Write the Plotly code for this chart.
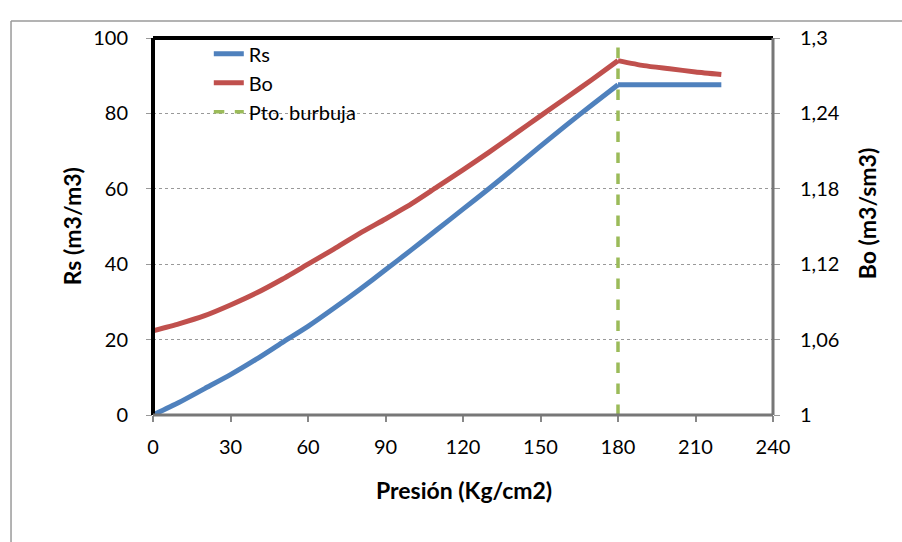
import plotly.graph_objects as go

pres = [0, 10, 20, 30, 40, 50, 60, 70, 80, 90, 100, 110, 120, 130, 140, 150, 160, 170, 180, 190, 200, 210, 220]
rs = [0, 3.3, 7.0, 10.7, 14.8, 19.2, 23.5, 28.3, 33.3, 38.5, 43.8, 49.2, 54.6, 60.0, 65.6, 71.3, 76.9, 82.3, 87.6, 87.6, 87.6, 87.6, 87.6]
bo = [1.067, 1.0725, 1.079, 1.0875, 1.097, 1.108, 1.120, 1.132, 1.1445, 1.156, 1.168, 1.1815, 1.195, 1.209, 1.2235, 1.238, 1.2525, 1.267, 1.282, 1.278, 1.2755, 1.273, 1.271]
bubble_p = [180, 180]
bubble_rs = [0, 100]

x_ticks = [0, 30, 60, 90, 120, 150, 180, 210, 240]
y1_ticks = [0, 20, 40, 60, 80, 100]
y2_ticks = [1.0, 1.06, 1.12, 1.18, 1.24, 1.30]
y2_labels = ["1", "1,06", "1,12", "1,18", "1,24", "1,3"]

FONT = "Lato"
fig = go.Figure()
fig.add_trace(go.Scatter(x=pres[:19], y=rs[:19], name="Rs", mode="lines",
                         line=dict(color="#4F81BD", width=5, shape="spline", smoothing=0.6),
                         yaxis="y", showlegend=True))
fig.add_trace(go.Scatter(x=pres[18:], y=rs[18:], name="Rs", mode="lines",
                         line=dict(color="#4F81BD", width=5), yaxis="y", showlegend=False))
fig.add_trace(go.Scatter(x=pres[:19], y=bo[:19], name="Bo", mode="lines",
                         line=dict(color="#C0504D", width=5, shape="spline", smoothing=0.6),
                         yaxis="y2"))
fig.add_trace(go.Scatter(x=pres[18:], y=bo[18:], name="Bo", mode="lines",
                         line=dict(color="#C0504D", width=5, shape="spline", smoothing=0.6),
                         yaxis="y2", showlegend=False))
fig.add_trace(go.Scatter(x=bubble_p, y=bubble_rs, name="Pto. burbuja", mode="lines",
                         line=dict(color="#9BBB59", width=3.5, dash="dash"), yaxis="y"))

PW, PH, L, B0 = 620, 376.5, 153, 414.5

fig.update_layout(
    width=902, height=542,
    margin=dict(l=153, r=129, t=38, b=127, autoexpand=False),
    paper_bgcolor="white", plot_bgcolor="white",
    font=dict(family=FONT, size=20, color="black"),
    showlegend=True,
    legend=dict(x=0.09, y=1.01, xanchor="left", yanchor="top", bgcolor="rgba(0,0,0,0)",
                font=dict(size=20), tracegroupgap=0),
    xaxis=dict(range=[0, 240], tickvals=x_ticks, showgrid=False, zeroline=False,
               ticks="outside", ticklen=6, tickcolor="#888888", tickwidth=1.5,
               showline=False, ticklabelstandoff=8),
    yaxis=dict(range=[0, 100], tickvals=y1_ticks, showgrid=True, gridcolor="#999999",
               griddash="dot", gridwidth=1, zeroline=False, ticks="outside", ticklen=6,
               tickcolor="#999999", showline=False, ticklabelstandoff=14),
    yaxis2=dict(range=[1.0, 1.3], tickvals=y2_ticks, ticktext=y2_labels, overlaying="y",
                side="right", showgrid=False, zeroline=False, ticks="outside", ticklen=6,
                tickcolor="#999999", showline=False, ticklabelstandoff=16),
    annotations=[
        dict(text="<b>Presión (Kg/cm2)</b>", xref="paper", yref="paper",
             x=(464 - L) / PW, y=(B0 - 489) / PH, showarrow=False,
             font=dict(size=23), xanchor="center", yanchor="middle"),
        dict(text="<b>Rs (m3/m3)</b>", xref="paper", yref="paper",
             x=(72 - L) / PW, y=(B0 - 226) / PH, showarrow=False, textangle=-90,
             font=dict(size=23), xanchor="center", yanchor="middle"),
        dict(text="<b>Bo (m3/sm3)</b>", xref="paper", yref="paper",
             x=(867 - L) / PW, y=(B0 - 214) / PH, showarrow=False, textangle=-90,
             font=dict(size=23), xanchor="center", yanchor="middle"),
    ],
    shapes=[
        dict(type="line", xref="paper", yref="paper", x0=0, x1=1, y0=1, y1=1,
             line=dict(color="black", width=4)),
        dict(type="line", xref="paper", yref="paper", x0=0, x1=0, y0=0, y1=1,
             line=dict(color="black", width=4)),
        dict(type="line", xref="paper", yref="paper", x0=1, x1=1, y0=0, y1=1,
             line=dict(color="#777777", width=3)),
        dict(type="line", xref="paper", yref="paper", x0=0, x1=1, y0=0, y1=0,
             line=dict(color="#777777", width=3)),
        dict(type="line", xref="paper", yref="paper", x0=-0.229, x1=1.3, y0=1.045, y1=1.045,
             line=dict(color="#9A9A9A", width=1.5)),
        dict(type="line", xref="paper", yref="paper", x0=-0.229, x1=-0.229, y0=-0.4, y1=1.045,
             line=dict(color="#9A9A9A", width=1.5)),
    ],
)

fig.write_html("out.html")
